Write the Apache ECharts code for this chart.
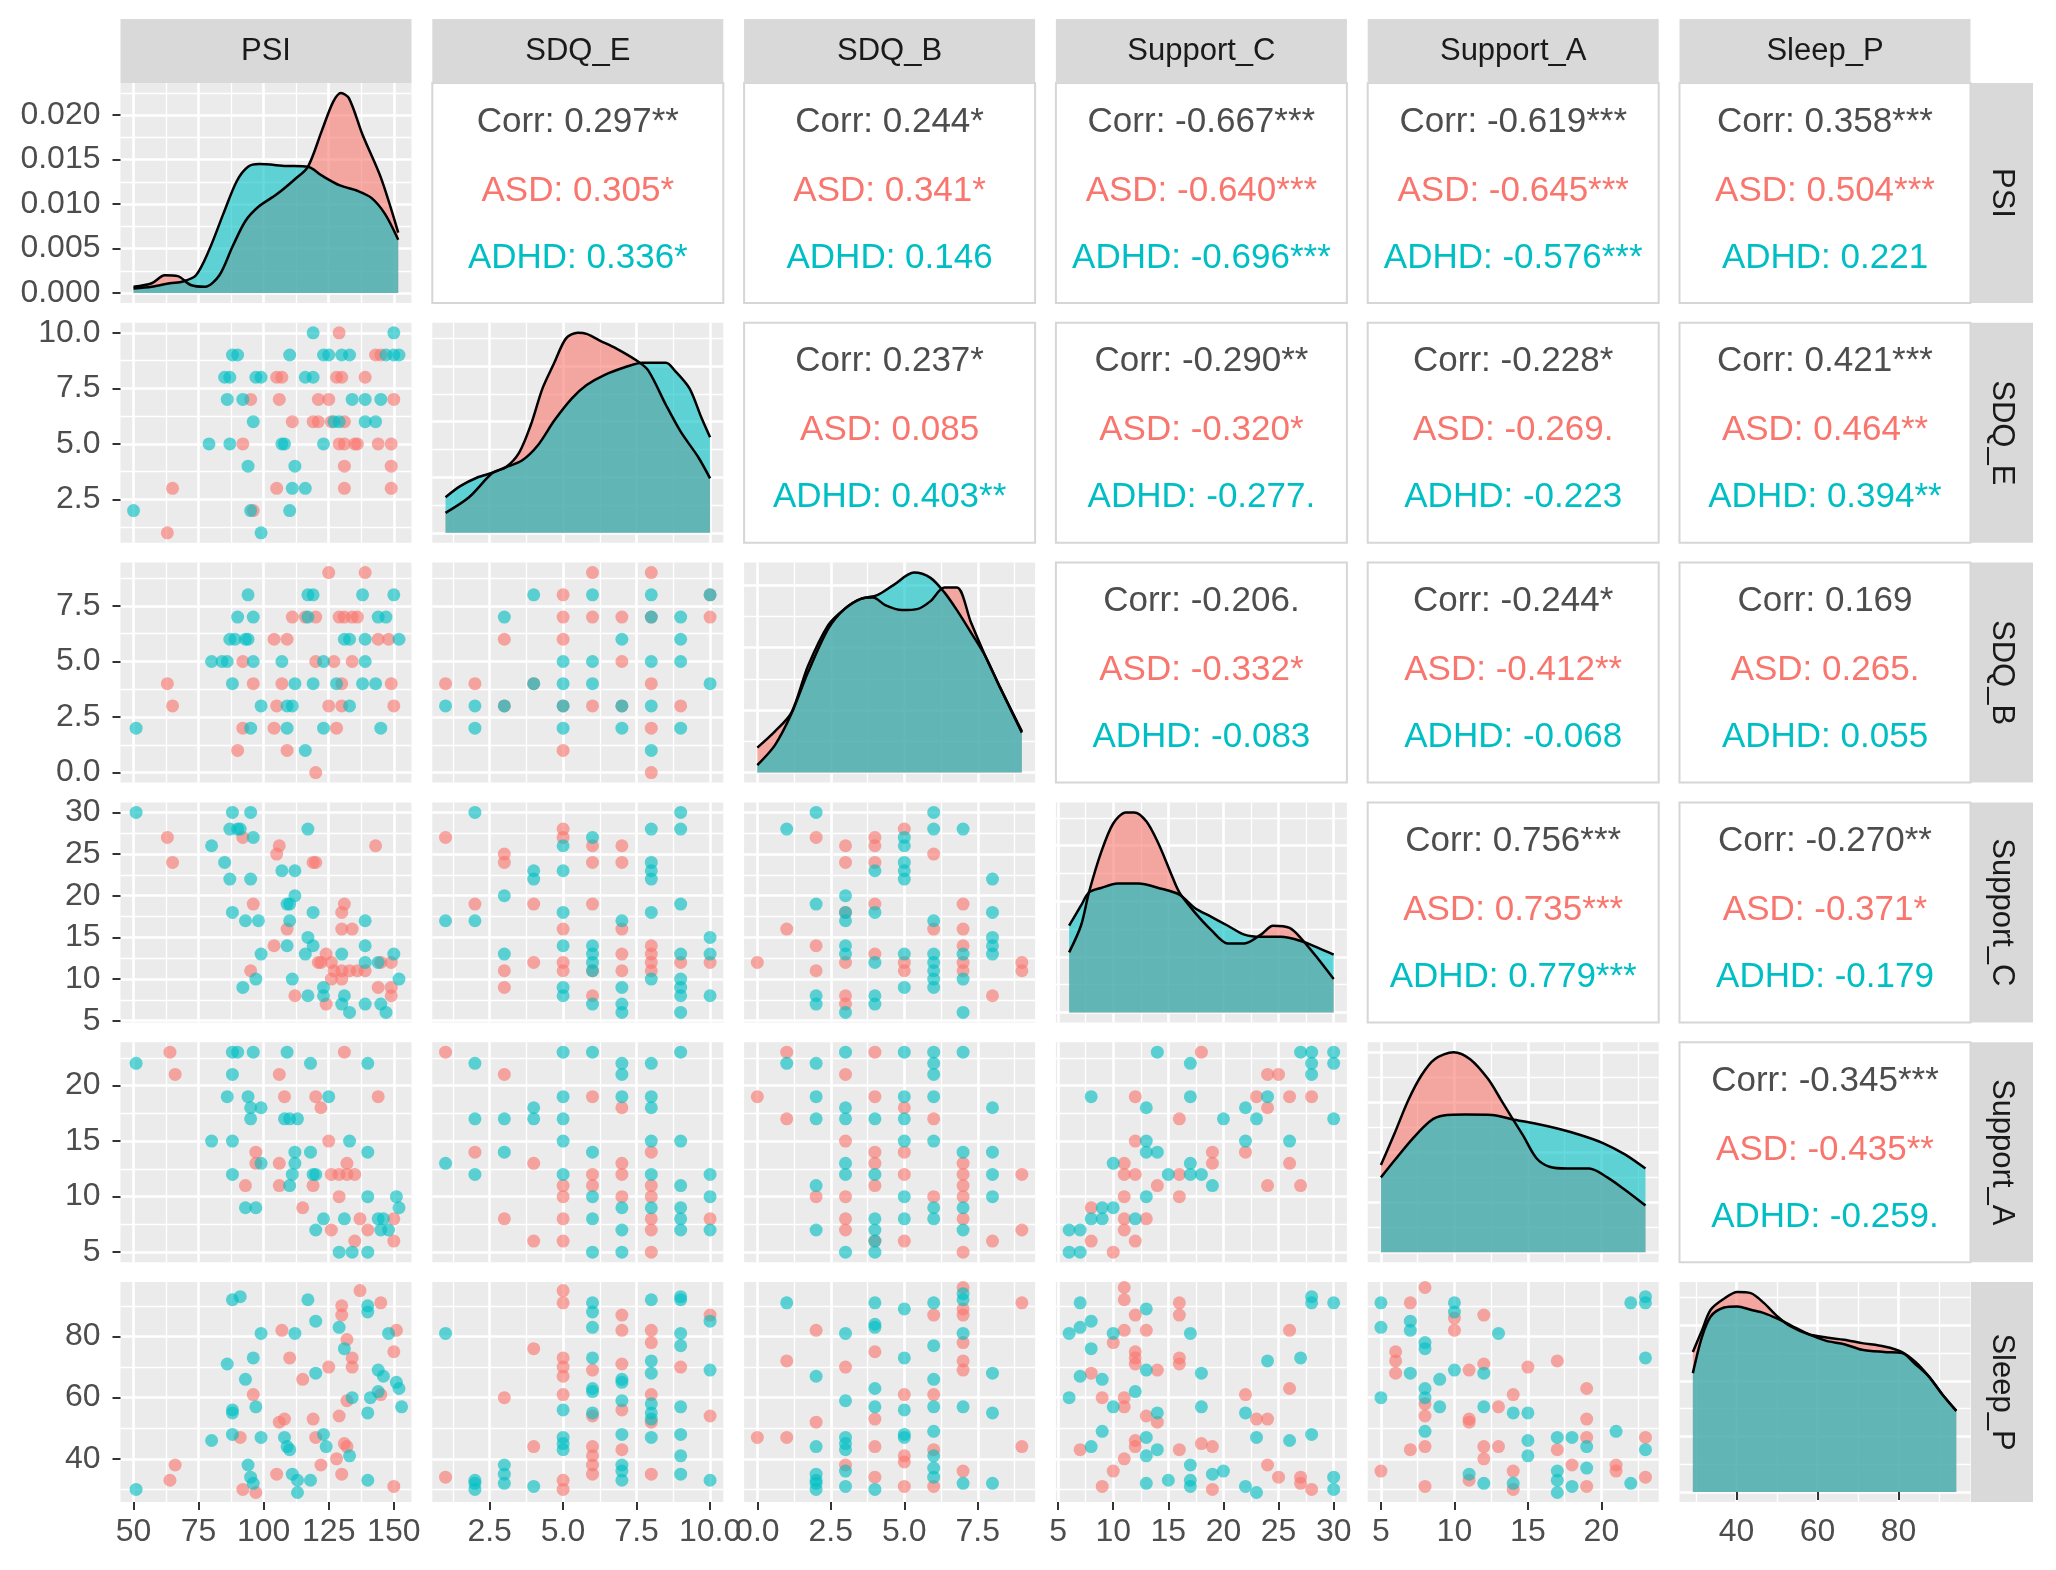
<!DOCTYPE html>
<html>
<head>
<meta charset="utf-8">
<script src="https://cdn.jsdelivr.net/npm/echarts@6/dist/echarts.min.js"></script>
<style>
html, body { margin: 0; padding: 0; background: #fff; }
#chart { width: 2056px; height: 1570px; }
</style>
</head>
<body>
<div id="chart"></div>
<script>
// pairs plot: ASD vs ADHD groups

const varNames = ['PSI', 'SDQ_E', 'SDQ_B', 'Support_C', 'Support_A', 'Sleep_P'];
const varBreaks = [[50, 75, 100, 125, 150], [2.5, 5, 7.5, 10], [0, 2.5, 5, 7.5], [5, 10, 15, 20, 25, 30], [5, 10, 15, 20], [40, 60, 80]];
const varDecimals = [0, 1, 1, 0, 0, 0];
const varExtent = [[45, 156.8], [0.55, 10.45], [-0.45, 9.45], [4.8, 31.2], [4.1, 23.9], [25.9, 97.8]];
const densBreaks = [[0, 0.005, 0.01, 0.015, 0.02], [0, 0.05, 0.1, 0.15], [0, 0.05, 0.1, 0.15], [0, 0.025, 0.05, 0.075], [0, 0.025, 0.05, 0.075, 0.1], [0, 0.005, 0.01, 0.015]];

// density curves [x, density]
const densPsiASD = [[50,0.0007],[57,0.0011],[62,0.0020],[67,0.0019],[72,0.0009],[77.5,0.0007],[83,0.0020],[88,0.0052],[93,0.0081],[98,0.0097],[105,0.0111],[112,0.0128],[117,0.0142],[122.4,0.0183],[126.7,0.0215],[129.7,0.0225],[132.8,0.0219],[138,0.0178],[145,0.0130],[151.7,0.0068]];
const densPsiADHD = [[50,0.0005],[57,0.0007],[64,0.0011],[69,0.0013],[74,0.0020],[79,0.0048],[84.5,0.0089],[89.7,0.0126],[94,0.0142],[98.3,0.0145],[108.6,0.0143],[117,0.0142],[122.4,0.0132],[129.3,0.0121],[136,0.0115],[141.4,0.0107],[146.6,0.0089],[151.7,0.0060]];
const densSdqeASD = [[1,0.018],[1.8,0.032],[2.6,0.054],[3.05,0.059],[3.5,0.072],[3.9,0.097],[4.3,0.130],[4.7,0.153],[5.1,0.175],[5.5,0.180],[5.8,0.179],[6.25,0.173],[6.8,0.166],[7.5,0.155],[7.9,0.146],[8.5,0.115],[9,0.091],[9.6,0.068],[10,0.049]];
const densSdqeADHD = [[1,0.032],[1.5,0.042],[2.1,0.050],[2.6,0.054],[3.05,0.059],[3.6,0.065],[4.15,0.079],[4.7,0.101],[5.3,0.121],[5.8,0.133],[6.4,0.142],[7.1,0.149],[7.7,0.153],[8.5,0.153],[8.8,0.146],[9.3,0.130],[9.7,0.104],[10,0.086]];
const densSdqbASD = [[0,0.020],[0.6,0.033],[1.16,0.048],[1.72,0.085],[2.41,0.118],[2.97,0.131],[3.52,0.139],[3.94,0.140],[4.35,0.134],[4.91,0.130],[5.47,0.131],[5.88,0.137],[6.37,0.148],[6.79,0.148],[7.27,0.120],[7.76,0.093],[8.24,0.069],[9,0.032]];
const densSdqbADHD = [[0,0.006],[0.6,0.022],[1.16,0.047],[1.72,0.080],[2.41,0.115],[2.97,0.131],[3.52,0.139],[4.08,0.142],[4.63,0.150],[5.33,0.160],[5.88,0.156],[6.37,0.144],[6.79,0.130],[7.27,0.112],[7.76,0.093],[8.24,0.069],[9,0.033]];
const densSupcASD = [[6,0.027],[7.07,0.039],[7.8,0.054],[8.9,0.072],[10,0.085],[11.15,0.090],[11.9,0.090],[13,0.086],[14.1,0.076],[15.2,0.063],[16,0.054],[17.4,0.045],[18.9,0.037],[20.4,0.031],[21.9,0.031],[23.4,0.035],[24.5,0.039],[26,0.038],[27.1,0.033],[28.6,0.024],[30,0.015]];
const densSupcADHD = [[6,0.039],[7.07,0.048],[7.8,0.054],[8.9,0.056],[10.4,0.058],[12.3,0.058],[14.1,0.056],[16,0.053],[17.4,0.047],[18.9,0.043],[20.4,0.039],[21.9,0.035],[23.4,0.034],[25.2,0.034],[27.1,0.032],[28.6,0.029],[30,0.026]];
const densSupaASD = [[5,0.0436],[5.96,0.060],[6.86,0.076],[7.76,0.0885],[8.66,0.0965],[9.95,0.100],[11.07,0.0965],[12.27,0.0868],[13.17,0.0762],[13.9,0.0674],[14.66,0.0585],[15.57,0.0471],[16.47,0.0427],[17.67,0.0418],[19.17,0.0418],[20.4,0.0374],[21.6,0.0312],[23,0.0233]];
const densSupaADHD = [[5,0.0374],[5.96,0.0462],[7.16,0.0568],[8.36,0.0656],[9.26,0.0683],[10.77,0.0688],[12.57,0.0686],[13.9,0.0665],[15.57,0.0642],[17.07,0.0617],[18.57,0.0586],[20.07,0.0547],[21.6,0.0489],[23,0.0418]];
const densSleepASD = [[29.2,0.0126],[31.4,0.0145],[33.6,0.0164],[36.9,0.0174],[40.2,0.0180],[43.5,0.0179],[46.8,0.0170],[50.1,0.0158],[53.4,0.0149],[57.8,0.0142],[62.2,0.0139],[66.6,0.0137],[71,0.0134],[76.5,0.0131],[80.9,0.0126],[84.2,0.0117],[87.5,0.0104],[90.8,0.0088],[94.3,0.0073]];
const densSleepADHD = [[29.2,0.0107],[31.4,0.0139],[33.6,0.0158],[36.9,0.0166],[40.2,0.0167],[43.5,0.0164],[46.8,0.0161],[50.1,0.0156],[53.4,0.0150],[57.8,0.0142],[62.2,0.0136],[66.6,0.0133],[71,0.0128],[76.5,0.0126],[80.9,0.0125],[84.2,0.0115],[87.5,0.0104],[90.8,0.0088],[94.3,0.0073]];

// scatter points [x, y], named xVar + yVar + group
const psiSdqeASD = [[129,10],[143,9],[145,9],[105,8],[107,8],[128,8],[130,8],[139,8],[95,7],[106,7],[121,7],[125,7],[150,7],[111,6],[119,6],[121,6],[126,6],[131,6],[92,5],[129,5],[131,5],[135,5],[136,5],[144,5],[149,5],[131,4],[149,4],[65,3],[105,3],[131,3],[149,3],[96,2],[63,1]];
const psiSdqeADHD = [[119,10],[150,10],[88,9],[90,9],[110,9],[123,9],[125,9],[130,9],[133,9],[147,9],[150,9],[152,9],[85,8],[87,8],[97,8],[99,8],[116,8],[119,8],[86,7],[92,7],[134,7],[139,7],[145,7],[96,6],[127,6],[129,6],[139,6],[143,6],[79,5],[87,5],[107,5],[108,5],[123,5],[94,4],[112,4],[111,3],[116,3],[50,2],[95,2],[110,2],[99,1]];
const psiSdqbASD = [[125,9],[139,9],[111,7],[116,7],[120,7],[129,7],[131,7],[134,7],[136,7],[104,6],[109,6],[144,6],[148,6],[92,5],[120,5],[127,5],[134,5],[63,4],[96,4],[107,4],[130,4],[149,4],[65,3],[105,3],[125,3],[130,3],[150,3],[92,2],[104,2],[128,2],[90,1],[109,1],[120,0]];
const psiSdqbADHD = [[94,8],[117,8],[119,8],[138,8],[150,8],[90,7],[96,7],[117,7],[144,7],[147,7],[87,6],[89,6],[93,6],[94,6],[131,6],[133,6],[139,6],[152,6],[80,5],[84,5],[86,5],[96,5],[107,5],[123,5],[139,5],[88,4],[112,4],[119,4],[128,4],[138,4],[143,4],[99,3],[109,3],[111,3],[133,3],[51,2],[95,2],[109,2],[123,2],[145,2],[116,1]];
const sdqeSdqbASD = [[6,9],[8,9],[5,8],[10,8],[5,7],[6,7],[7,7],[8,7],[10,7],[3,6],[5,6],[7,5],[1,4],[2,4],[4,4],[8,4],[3,3],[5,3],[6,3],[7,3],[9,3],[8,2],[5,1],[8,0]];
const sdqeSdqbADHD = [[4,8],[6,8],[8,8],[10,8],[3,7],[8,7],[9,7],[7,6],[9,6],[5,5],[6,5],[8,5],[9,5],[4,4],[5,4],[6,4],[10,4],[1,3],[2,3],[3,3],[5,3],[7,3],[8,3],[2,2],[5,2],[7,2],[9,2],[8,1]];
const psiSupcASD = [[92,27],[63,27],[106,26],[105,25],[143,26],[65,24],[119,24],[120,24],[96,19],[131,19],[130,18],[109,16],[130,16],[134,16],[104,14],[121,12],[124,13],[126,12],[127,11],[130,11],[133,11],[136,11],[139,11],[130,10],[126,10],[122,12],[145,12],[149,12],[95,11],[112,8],[124,7],[144,9],[149,9],[149,8]];
const psiSupcADHD = [[51,30],[88,30],[95,30],[87,28],[90,28],[91,28],[96,27],[80,26],[117,28],[85,24],[87,22],[95,22],[107,23],[112,23],[112,20],[109,19],[110,19],[88,18],[93,17],[98,17],[110,17],[119,18],[139,17],[109,14],[117,15],[99,13],[116,13],[119,14],[130,13],[139,14],[139,12],[144,12],[150,13],[152,10],[97,10],[92,9],[111,10],[117,8],[123,9],[123,8],[130,7],[131,8],[133,6],[139,7],[145,7],[147,6]];
const sdqeSupcASD = [[1,27],[2,19],[3,25],[3,24],[3,11],[3,9],[4,19],[4,12],[5,28],[5,27],[5,16],[5,12],[5,11],[6,26],[6,24],[6,19],[6,11],[6,8],[7,26],[7,24],[7,16],[7,13],[7,11],[8,14],[8,13],[8,12],[8,11],[9,12],[10,12]];
const sdqeSupcADHD = [[1,17],[2,30],[2,17],[3,20],[3,13],[4,23],[4,22],[5,26],[5,23],[5,18],[5,14],[5,9],[5,8],[6,27],[6,14],[6,13],[6,12],[6,11],[6,7],[7,17],[7,9],[7,7],[7,6],[8,28],[8,24],[8,23],[8,22],[8,18],[8,10],[9,30],[9,28],[9,19],[9,13],[9,10],[9,9],[9,8],[9,6],[10,15],[10,13],[10,8]];
const sdqbSupcASD = [[0,12],[1,16],[2,27],[2,14],[2,11],[3,26],[3,24],[3,18],[3,12],[3,8],[3,7],[4,27],[4,26],[4,24],[4,19],[4,13],[5,28],[5,12],[5,11],[6,25],[6,16],[7,19],[7,16],[7,14],[7,12],[7,11],[8,8],[9,12],[9,11]];
const sdqbSupcADHD = [[1,28],[2,30],[2,19],[2,8],[2,7],[3,20],[3,18],[3,17],[3,14],[3,13],[3,6],[4,23],[4,18],[4,12],[4,8],[4,7],[5,27],[5,26],[5,24],[5,23],[5,22],[5,13],[5,9],[6,30],[6,28],[6,17],[6,13],[6,12],[6,11],[6,10],[6,9],[7,28],[7,13],[7,10],[7,6],[8,22],[8,18],[8,15],[8,14],[8,13]];
const psiSupaASD = [[64,23],[131,23],[66,21],[106,21],[108,19],[120,19],[144,19],[122,18],[125,15],[97,14],[97,13],[106,13],[132,13],[126,12],[129,12],[132,12],[135,12],[93,11],[106,11],[119,11],[129,10],[115,9],[137,8],[150,8],[126,7],[140,7],[135,6],[150,6]];
const psiSupaADHD = [[51,22],[88,23],[90,23],[96,23],[109,23],[118,22],[140,22],[88,21],[86,19],[94,19],[125,19],[95,18],[99,18],[95,17],[108,17],[110,17],[113,17],[80,15],[88,15],[133,15],[112,14],[118,14],[140,14],[99,13],[112,13],[88,12],[111,12],[119,12],[120,12],[110,11],[140,10],[151,10],[93,9],[97,9],[152,9],[123,8],[131,8],[144,8],[146,8],[120,7],[145,7],[148,7],[129,5],[134,5],[140,5]];
const sdqeSupaASD = [[1,23],[2,14],[3,21],[3,8],[4,13],[4,6],[5,11],[5,10],[5,8],[5,6],[6,19],[6,12],[6,11],[7,18],[7,13],[7,12],[7,10],[8,14],[8,11],[8,10],[8,8],[8,7],[8,5],[10,8]];
const sdqeSupaADHD = [[1,13],[2,22],[2,17],[2,12],[3,17],[3,14],[4,18],[4,17],[5,23],[5,19],[5,17],[5,15],[5,12],[6,23],[6,14],[6,10],[6,8],[6,5],[7,22],[7,21],[7,19],[7,9],[7,7],[7,5],[8,22],[8,19],[8,18],[8,15],[8,12],[8,9],[9,23],[9,15],[9,11],[9,9],[9,8],[9,7],[10,12],[10,10],[10,7]];
const sdqbSupaASD = [[0,19],[1,23],[1,17],[2,10],[3,21],[3,15],[3,10],[3,8],[3,7],[4,23],[4,19],[4,14],[4,13],[4,11],[4,6],[5,18],[5,14],[5,12],[5,6],[6,17],[6,10],[7,13],[7,12],[7,11],[7,10],[7,8],[7,5],[8,6],[9,12],[9,7]];
const sdqbSupaADHD = [[1,22],[2,22],[2,19],[2,17],[2,11],[2,7],[3,23],[3,18],[3,17],[3,13],[3,12],[3,5],[4,17],[4,12],[4,8],[4,7],[4,6],[4,5],[5,23],[5,19],[5,17],[5,15],[5,10],[5,8],[6,23],[6,22],[6,21],[6,19],[6,15],[6,9],[6,8],[7,23],[7,14],[7,9],[7,7],[8,18],[8,14],[8,12],[8,10]];
const supcSupaASD = [[18,23],[24,21],[25,21],[12,19],[23,19],[26,19],[28,19],[24,18],[16,17],[12,15],[19,14],[22,14],[11,13],[19,13],[26,13],[11,12],[12,12],[16,12],[14,11],[24,11],[27,11],[11,10],[16,10],[8,9],[11,8],[13,8],[11,7],[8,6],[12,6],[10,5]];
const supcSupaADHD = [[14,23],[17,22],[27,23],[28,23],[30,23],[28,22],[30,22],[28,21],[8,19],[17,19],[24,19],[13,18],[22,18],[20,17],[23,17],[30,17],[13,15],[22,15],[26,15],[13,14],[14,14],[10,13],[17,13],[15,12],[17,12],[18,12],[19,11],[13,10],[9,9],[10,9],[8,8],[9,8],[12,8],[6,7],[7,7],[6,5],[7,5]];
const psiSleepASD = [[137,95],[130,90],[130,87],[145,91],[132,79],[107,82],[151,82],[150,75],[110,73],[134,73],[134,70],[125,70],[115,66],[96,61],[132,59],[145,61],[129,54],[106,52],[108,53],[119,53],[91,47],[120,47],[131,45],[132,44],[128,40],[122,38],[130,35],[92,30],[97,29],[105,35],[150,31],[64,33],[66,38]];
const psiSleepADHD = [[117,92],[88,92],[91,93],[140,90],[140,88],[120,85],[129,83],[131,76],[99,81],[112,81],[148,81],[86,71],[96,73],[120,68],[93,66],[144,69],[146,67],[151,65],[152,63],[141,60],[144,62],[97,57],[88,56],[88,55],[134,60],[153,57],[140,55],[88,48],[80,46],[99,47],[108,47],[109,44],[110,43],[123,48],[124,44],[133,41],[94,38],[95,34],[96,32],[111,35],[113,33],[113,29],[118,33],[140,33],[51,30]];
const sdqeSleepASD = [[1,34],[3,60],[4,76],[4,44],[5,95],[5,91],[5,73],[5,70],[5,67],[5,61],[5,33],[5,30],[6,69],[6,54],[6,44],[6,41],[6,38],[6,35],[7,87],[7,82],[7,71],[7,56],[7,43],[8,82],[8,78],[8,61],[8,52],[8,35],[9,70],[10,87],[10,54]];
const sdqeSleepADHD = [[1,81],[2,33],[2,32],[2,30],[3,38],[3,35],[3,32],[4,31],[5,56],[5,47],[5,45],[5,43],[6,91],[6,88],[6,83],[6,73],[6,63],[6,62],[6,55],[7,66],[7,65],[7,59],[7,48],[7,38],[7,36],[7,33],[8,92],[8,72],[8,68],[8,58],[8,55],[8,53],[8,47],[9,93],[9,92],[9,81],[9,77],[9,57],[9,48],[9,41],[9,35],[10,85],[10,69],[10,33]];
const sdqbSleepASD = [[0,47],[1,72],[1,47],[2,82],[2,52],[3,70],[3,38],[4,75],[4,53],[4,44],[4,34],[5,61],[5,41],[5,39],[5,31],[6,87],[6,61],[6,43],[6,31],[7,96],[7,89],[7,87],[7,78],[7,72],[7,69],[7,36],[9,91],[9,44]];
const sdqbSleepADHD = [[1,91],[2,67],[2,44],[2,35],[2,33],[2,32],[2,30],[3,81],[3,59],[3,47],[3,45],[3,43],[3,36],[3,31],[4,91],[4,84],[4,83],[4,63],[4,57],[4,30],[5,89],[5,73],[5,56],[5,48],[5,47],[6,91],[6,77],[6,66],[6,57],[6,49],[6,41],[6,37],[6,34],[7,94],[7,92],[7,81],[7,57],[7,32],[8,68],[8,55],[8,32]];
const supcSleepASD = [[11,96],[11,92],[12,87],[16,91],[16,87],[11,82],[13,82],[10,78],[12,75],[12,73],[12,71],[16,73],[16,71],[26,82],[8,68],[14,69],[26,63],[9,60],[11,60],[11,57],[22,61],[13,54],[14,52],[23,53],[24,53],[12,46],[7,43],[12,44],[16,43],[18,45],[19,44],[11,40],[10,36],[9,31],[19,30],[24,38],[25,34],[27,34],[27,32],[28,30]];
const supcSleepADHD = [[7,91],[13,89],[6,81],[7,83],[8,85],[10,81],[17,81],[8,76],[24,72],[27,73],[7,67],[9,66],[13,69],[18,68],[12,62],[6,60],[10,57],[18,57],[22,55],[14,55],[9,49],[13,47],[14,43],[23,47],[26,46],[28,48],[8,44],[13,41],[17,38],[17,33],[19,35],[20,36],[13,32],[15,33],[17,31],[22,31],[23,29],[30,34],[30,30],[28,93],[28,91],[30,91]];
const supaSleepASD = [[5,36],[7,91],[8,96],[6,75],[6,72],[6,68],[8,58],[8,54],[8,44],[7,43],[8,31],[10,86],[10,82],[12,87],[11,69],[12,71],[11,53],[11,52],[13,57],[14,61],[12,44],[13,44],[12,40],[11,33],[14,36],[14,30],[15,70],[17,72],[17,43],[18,38],[19,63],[19,53],[19,47],[19,31],[21,38],[21,36],[23,47],[23,34]];
const supaSleepADHD = [[5,91],[5,83],[5,60],[7,85],[7,82],[7,68],[8,78],[8,76],[9,66],[8,63],[8,60],[9,57],[8,49],[10,91],[10,88],[13,81],[10,69],[12,68],[12,57],[14,55],[15,55],[11,35],[12,32],[14,32],[15,46],[15,41],[17,47],[17,36],[17,33],[17,29],[18,47],[18,31],[19,44],[19,37],[21,49],[22,91],[23,93],[23,91],[23,73],[23,43],[22,32]];

// correlation labels for upper panels
const corrCells = [[0,1],[0,2],[0,3],[0,4],[0,5],[1,2],[1,3],[1,4],[1,5],[2,3],[2,4],[2,5],[3,4],[3,5],[4,5]];
const corrAll = ['Corr: 0.297**','Corr: 0.244*','Corr: -0.667***','Corr: -0.619***','Corr: 0.358***','Corr: 0.237*','Corr: -0.290**','Corr: -0.228*','Corr: 0.421***','Corr: -0.206.','Corr: -0.244*','Corr: 0.169','Corr: 0.756***','Corr: -0.270**','Corr: -0.345***'];
const corrASD = ['ASD: 0.305*','ASD: 0.341*','ASD: -0.640***','ASD: -0.645***','ASD: 0.504***','ASD: 0.085','ASD: -0.320*','ASD: -0.269.','ASD: 0.464**','ASD: -0.332*','ASD: -0.412**','ASD: 0.265.','ASD: 0.735***','ASD: -0.371*','ASD: -0.435**'];
const corrADHD = ['ADHD: 0.336*','ADHD: 0.146','ADHD: -0.696***','ADHD: -0.576***','ADHD: 0.221','ADHD: 0.403**','ADHD: -0.277.','ADHD: -0.223','ADHD: 0.394**','ADHD: -0.083','ADHD: -0.068','ADHD: 0.055','ADHD: 0.779***','ADHD: -0.179','ADHD: -0.259.'];

const densASD = [densPsiASD, densSdqeASD, densSdqbASD, densSupcASD, densSupaASD, densSleepASD];
const densADHD = [densPsiADHD, densSdqeADHD, densSdqbADHD, densSupcADHD, densSupaADHD, densSleepADHD];
const scatterPanels = {
    '1-0': [psiSdqeASD, psiSdqeADHD],
    '2-0': [psiSdqbASD, psiSdqbADHD], '2-1': [sdqeSdqbASD, sdqeSdqbADHD],
    '3-0': [psiSupcASD, psiSupcADHD], '3-1': [sdqeSupcASD, sdqeSupcADHD], '3-2': [sdqbSupcASD, sdqbSupcADHD],
    '4-0': [psiSupaASD, psiSupaADHD], '4-1': [sdqeSupaASD, sdqeSupaADHD], '4-2': [sdqbSupaASD, sdqbSupaADHD], '4-3': [supcSupaASD, supcSupaADHD],
    '5-0': [psiSleepASD, psiSleepADHD], '5-1': [sdqeSleepASD, sdqeSleepADHD], '5-2': [sdqbSleepASD, sdqbSleepADHD], '5-3': [supcSleepASD, supcSleepADHD], '5-4': [supaSleepASD, supaSleepADHD]
};

// layout
const PANEL_LEFT = 120.5, COL_STEP = 311.8, PANEL_W = 291;
const PANEL_TOP = 83, ROW_STEP = 239.8, PANEL_H = 220;
const STRIP_TOP = 19, STRIP_RIGHT_X = 1971, STRIP_W = 62;
const COL_ASD = '#F8766D', COL_ADHD = '#00BFC4';
const FONT = '"Liberation Sans", Arial, sans-serif';

const grids = [], xAxes = [], yAxes = [], series = [], graphics = [];

function minorsOf(breaks, ext) {
    const step = breaks[1] - breaks[0];
    const out = [];
    for (let v = breaks[0] - step / 2; v <= ext[1]; v += step) {
        if (v >= ext[0]) out.push(+v.toFixed(6));
    }
    return out;
}

// one axis for major grid lines (and labels), one for minor grid lines
function addAxes(list, gi, ext, breaks, showLabels, decimals, dim) {
    list.push({
        type: 'value', gridIndex: gi, min: ext[0], max: ext[1],
        position: dim === 'x' ? 'bottom' : 'left',
        axisLine: { show: false },
        axisTick: { show: showLabels, customValues: breaks, length: 8, lineStyle: { color: '#333333', width: 2 } },
        axisLabel: {
            show: showLabels, customValues: breaks,
            formatter: v => Number(v).toFixed(decimals),
            color: '#4D4D4D', fontSize: 32, fontFamily: FONT,
            margin: dim === 'x' ? 14 : 20
        },
        splitLine: { show: true, lineStyle: { color: '#FFFFFF', width: 2.6 } }
    });
    list.push({
        type: 'value', gridIndex: gi, min: ext[0], max: ext[1],
        position: dim === 'x' ? 'bottom' : 'left',
        axisLine: { show: false },
        axisTick: { show: false, customValues: minorsOf(breaks, ext) },
        axisLabel: { show: false, customValues: minorsOf(breaks, ext) },
        splitLine: { show: true, lineStyle: { color: '#FFFFFF', width: 1.3 } }
    });
}

function scatterSeries(data, color, xi, yi) {
    return {
        type: 'scatter', xAxisIndex: xi, yAxisIndex: yi, data: data,
        symbol: 'circle', symbolSize: 13, silent: true,
        itemStyle: { color: color, opacity: 0.62 }
    };
}

function densitySeries(data, color, xi, yi) {
    return {
        type: 'line', xAxisIndex: xi, yAxisIndex: yi, data: data,
        smooth: 0.3, symbol: 'none', showSymbol: false, silent: true,
        lineStyle: { color: '#000000', width: 2.5 },
        areaStyle: { color: color, opacity: 0.6 }
    };
}

for (let r = 0; r < 6; r++) {
    for (let c = 0; c <= r; c++) {
        const gi = grids.length;
        grids.push({
            left: PANEL_LEFT + c * COL_STEP, top: PANEL_TOP + r * ROW_STEP,
            width: PANEL_W, height: PANEL_H,
            show: true, backgroundColor: '#EBEBEB', borderWidth: 0
        });
        const xi = xAxes.length, yi = yAxes.length;
        addAxes(xAxes, gi, varExtent[c], varBreaks[c], r === 5, varDecimals[c], 'x');
        if (r === c) {
            const vals = densASD[c].concat(densADHD[c]).map(p => p[1]);
            const m = Math.max(...vals);
            addAxes(yAxes, gi, [-0.05 * m, 1.05 * m], densBreaks[c], c === 0, 3, 'y');
            series.push(densitySeries(densASD[c], COL_ASD, xi, yi));
            series.push(densitySeries(densADHD[c], COL_ADHD, xi, yi));
        } else {
            addAxes(yAxes, gi, varExtent[r], varBreaks[r], c === 0, varDecimals[r], 'y');
            const pair = scatterPanels[r + '-' + c];
            series.push(scatterSeries(pair[0], COL_ASD, xi, yi));
            series.push(scatterSeries(pair[1], COL_ADHD, xi, yi));
        }
    }
}

// upper panels with correlation text
corrCells.forEach((cell, i) => {
    const r = cell[0], c = cell[1];
    const x = PANEL_LEFT + c * COL_STEP, y = PANEL_TOP + r * ROW_STEP;
    graphics.push({
        type: 'rect', shape: { x: x, y: y, width: PANEL_W, height: PANEL_H },
        style: { fill: '#FFFFFF', stroke: '#D6D6D6', lineWidth: 2 }
    });
    const lines = [[corrAll[i], '#4D4D4D', 39], [corrASD[i], COL_ASD, 108], [corrADHD[i], COL_ADHD, 175]];
    lines.forEach(l => {
        graphics.push({
            type: 'text', x: x + PANEL_W / 2, y: y + l[2],
            style: {
                text: l[0], fill: l[1], fontSize: 35, fontFamily: FONT,
                align: 'center', verticalAlign: 'middle', textAlign: 'center', textVerticalAlign: 'middle'
            }
        });
    });
});

// strips
varNames.forEach((name, i) => {
    const x = PANEL_LEFT + i * COL_STEP;
    graphics.push({
        type: 'rect', shape: { x: x, y: STRIP_TOP, width: PANEL_W, height: PANEL_TOP - STRIP_TOP },
        style: { fill: '#D9D9D9' }
    });
    graphics.push({
        type: 'text', x: x + PANEL_W / 2, y: (STRIP_TOP + PANEL_TOP) / 2,
        style: {
            text: name, fill: '#1A1A1A', fontSize: 31, fontFamily: FONT,
            align: 'center', verticalAlign: 'middle', textAlign: 'center', textVerticalAlign: 'middle'
        }
    });
    const y = PANEL_TOP + i * ROW_STEP;
    graphics.push({
        type: 'rect', shape: { x: STRIP_RIGHT_X, y: y, width: STRIP_W, height: PANEL_H },
        style: { fill: '#D9D9D9' }
    });
    graphics.push({
        type: 'text', x: STRIP_RIGHT_X + STRIP_W / 2, y: y + PANEL_H / 2, rotation: -Math.PI / 2,
        style: {
            text: name, fill: '#1A1A1A', fontSize: 31, fontFamily: FONT,
            align: 'center', verticalAlign: 'middle', textAlign: 'center', textVerticalAlign: 'middle'
        }
    });
});

const chart = echarts.init(document.getElementById('chart'));
chart.setOption({
    animation: false,
    backgroundColor: '#FFFFFF',
    grid: grids,
    xAxis: xAxes,
    yAxis: yAxes,
    series: series,
    graphic: { elements: graphics }
});
</script>
</body>
</html>
